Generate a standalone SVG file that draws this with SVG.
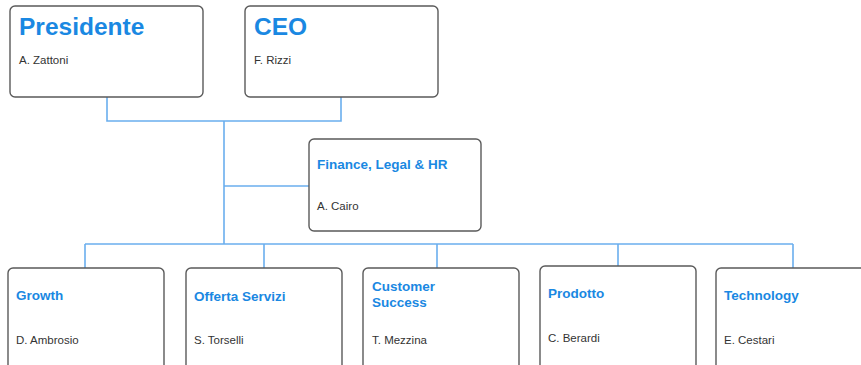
<svg xmlns="http://www.w3.org/2000/svg" width="861" height="365" viewBox="0 0 861 365">
  <style>
    .box { fill: #ffffff; stroke: #5a5a5a; stroke-width: 1.4; }
    .link { fill: none; stroke: #6aaeee; stroke-width: 1.6; }
    .title { font-family: "Liberation Sans", Arial, sans-serif; font-weight: bold; fill: #1a88e2; }
    .big { font-size: 24.5px; }
    .mid { font-size: 13.5px; }
    .name { font-family: "Liberation Sans", Arial, sans-serif; font-size: 11.5px; fill: #333333; }
  </style>
  <rect width="861" height="365" fill="#ffffff"/>

  <!-- connectors -->
  <g id="connectors">
    <polyline class="link" points="107,97 107,121 341,121 341,97"/>
    <line class="link" x1="224" y1="121" x2="224" y2="244"/>
    <line class="link" x1="224" y1="186" x2="309" y2="186"/>
    <line class="link" x1="85" y1="244" x2="793" y2="244"/>
    <line class="link" x1="85" y1="244" x2="85" y2="268"/>
    <line class="link" x1="264" y1="244" x2="264" y2="268"/>
    <line class="link" x1="437" y1="244" x2="437" y2="268"/>
    <line class="link" x1="618" y1="244" x2="618" y2="268"/>
    <line class="link" x1="793" y1="244" x2="793" y2="268"/>
  </g>

  <g id="presidente">
    <rect class="box" x="10" y="6" width="193" height="91" rx="5"/>
    <text class="title big" x="19" y="35">Presidente</text>
    <text class="name" x="19" y="64">A. Zattoni</text>
  </g>

  <g id="ceo">
    <rect class="box" x="245" y="6" width="193" height="91" rx="5"/>
    <text class="title big" x="254" y="35">CEO</text>
    <text class="name" x="254" y="64">F. Rizzi</text>
  </g>

  <g id="finance">
    <rect class="box" x="309" y="139" width="172" height="92" rx="5"/>
    <text class="title mid" x="317" y="169">Finance, Legal &amp; HR</text>
    <text class="name" x="317" y="210">A. Cairo</text>
  </g>

  <g id="growth">
    <rect class="box" x="8" y="268" width="156" height="104" rx="5"/>
    <text class="title mid" x="16" y="300">Growth</text>
    <text class="name" x="16" y="344">D. Ambrosio</text>
  </g>

  <g id="offerta-servizi">
    <rect class="box" x="186" y="268" width="156" height="104" rx="5"/>
    <text class="title mid" x="194" y="301">Offerta Servizi</text>
    <text class="name" x="194" y="344">S. Torselli</text>
  </g>

  <g id="customer-success">
    <rect class="box" x="363" y="268" width="156" height="104" rx="5"/>
    <text class="title mid" x="372" y="291">Customer</text>
    <text class="title mid" x="372" y="307">Success</text>
    <text class="name" x="372" y="344">T. Mezzina</text>
  </g>

  <g id="prodotto">
    <rect class="box" x="540" y="266" width="156" height="106" rx="5"/>
    <text class="title mid" x="548" y="298">Prodotto</text>
    <text class="name" x="548" y="342">C. Berardi</text>
  </g>

  <g id="technology">
    <rect class="box" x="716" y="268" width="156" height="104" rx="5"/>
    <text class="title mid" x="724" y="300">Technology</text>
    <text class="name" x="724" y="344">E. Cestari</text>
  </g>
</svg>
